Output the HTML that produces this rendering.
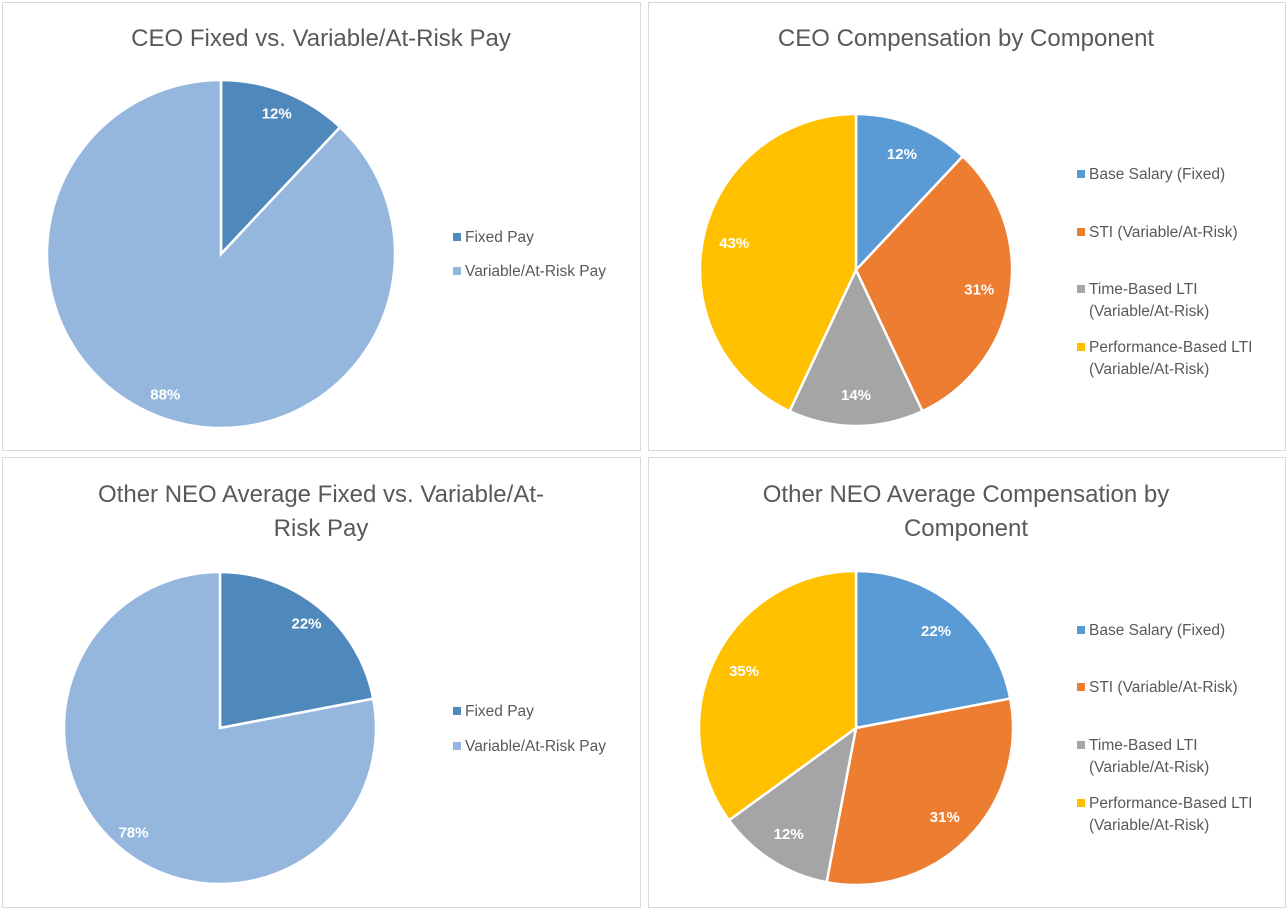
<!DOCTYPE html>
<html><head><meta charset="utf-8"><style>
body{margin:0;background:#fff;font-family:"Liberation Sans",sans-serif;}
svg{display:block}
</style></head><body>
<svg id="s" width="1287" height="909" xmlns="http://www.w3.org/2000/svg"></svg>
<script>
const ceoFixedCats=["Fixed Pay","Variable/At-Risk Pay"];
const ceoFixedVals=[12,88];
const neoFixedCats=["Fixed Pay","Variable/At-Risk Pay"];
const neoFixedVals=[22,78];
const compCats=[["Base Salary (Fixed)"],["STI (Variable/At-Risk)"],["Time-Based LTI","(Variable/At-Risk)"],["Performance-Based LTI","(Variable/At-Risk)"]];
const ceoCompVals=[12,31,14,43];
const neoCompVals=[22,31,12,35];
const fixedColors=["#4f88bb","#95b7de"];
const compColors=["#5b9bd5","#ed7d31","#a5a5a5","#ffc000"];
const NS="http://www.w3.org/2000/svg";
const svg=document.getElementById('s');
function el(t,a,p){const e=document.createElementNS(NS,t);for(const k in a)e.setAttribute(k,a[k]);(p||svg).appendChild(e);return e;}
function chart(o){
  const g=el('g',{});
  
  
  const fr=el('rect',{x:o.x+0.5,y:o.y+0.5,width:o.w,height:o.h,fill:'#fff',stroke:'#d9d9d9'},g);
  
  
  o.title.forEach((t,i)=>{const e=el('text',{x:o.tx,y:o.ty+i*34,'text-anchor':'middle','font-size':'24',fill:'#595959'},g);e.textContent=t;
    
    });
  const tot=o.vals.reduce((a,b)=>a+b,0);
  let a0=0;
  o.vals.forEach((v,i)=>{
    const a1=a0+v/tot*2*Math.PI;
    const p=(a)=>[o.cx+o.r*Math.sin(a),o.cy-o.r*Math.cos(a)];
    const [x0,y0]=p(a0),[x1,y1]=p(a1);
    const path=el('path',{d:`M${o.cx},${o.cy}L${x0},${y0}A${o.r},${o.r} 0 ${a1-a0>Math.PI?1:0} 1 ${x1},${y1}Z`,fill:o.colors[i],stroke:'#fff','stroke-width':2.5},g);
    
    
    const m=(a0+a1)/2,lr=o.r*o.lf;
    const t=el('text',{x:o.cx+lr*Math.sin(m),y:o.cy-lr*Math.cos(m)+5,'text-anchor':'middle','font-size':'15','font-weight':'bold',fill:'#fff'},g);
    t.textContent=v+'%';
    
    
    a0=a1;
  });
  o.cats.forEach((c,i)=>{
    const lines=Array.isArray(c)?c:[c];
    const y=o.ly[i];
    const m=el('rect',{x:o.lx,y:y-9,width:8,height:8,fill:o.colors[i]},g);
    
    
    lines.forEach((l,j)=>{const t=el('text',{x:o.lx+12,y:y+j*22,'font-size':'15.5',fill:'#595959'},g);t.textContent=l;
      
      });
  });
}
chart({name:'ceo-fixed-variable-chart',x:2,y:2,w:638,h:448,title:['CEO Fixed vs. Variable/At-Risk Pay'],tx:321,ty:46,cx:221,cy:254,r:174,lf:0.87,vals:ceoFixedVals,colors:fixedColors,cats:ceoFixedCats,lx:453,ly:242,ly:[242,276]});
chart({name:'ceo-component-chart',x:648,y:2,w:637,h:448,title:['CEO Compensation  by Component'],tx:966,ty:46,cx:856,cy:270,r:156,lf:0.8,vals:ceoCompVals,colors:compColors,cats:compCats,lx:1077,ly:[179,237,294,352]});
chart({name:'neo-fixed-variable-chart',x:2,y:457,w:638,h:450,title:['Other NEO Average Fixed vs. Variable/At-','Risk Pay'],tx:321,ty:502,cx:220,cy:728,r:156,lf:0.87,vals:neoFixedVals,colors:fixedColors,cats:neoFixedCats,lx:453,ly:[716,751]});
chart({name:'neo-component-chart',x:648,y:457,w:637,h:450,title:['Other NEO Average Compensation by','Component'],tx:966,ty:502,cx:856,cy:728,r:157,lf:0.8,vals:neoCompVals,colors:compColors,cats:compCats,lx:1077,ly:[635,692,750,808]});
</script>
</body></html>
